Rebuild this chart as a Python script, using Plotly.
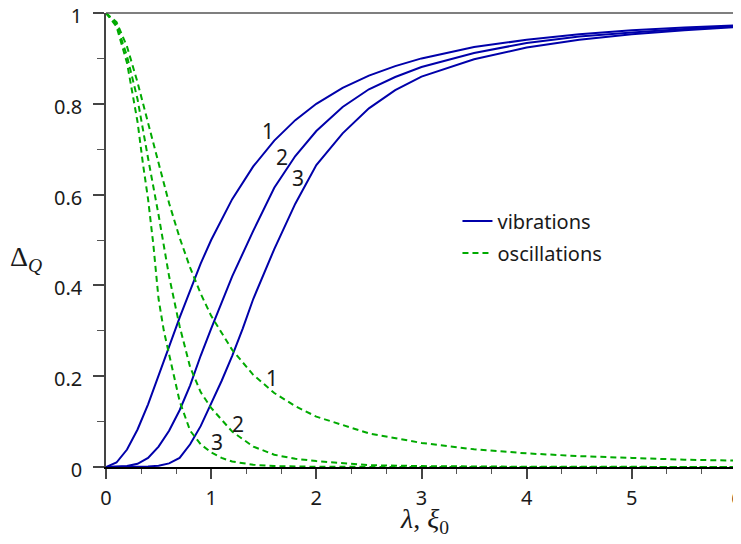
import plotly.graph_objects as go

# ---- data ----
lam_v1 = [0, 0.1, 0.2, 0.3, 0.4, 0.5, 0.6, 0.7, 0.8, 0.9, 1.0, 1.2, 1.4, 1.6, 1.8, 2.0,
          2.25, 2.5, 2.75, 3.0, 3.5, 4.0, 4.5, 5.0, 5.5, 6.0]
vib1 = [0, 0.0099, 0.0385, 0.0826, 0.138, 0.2, 0.265, 0.329, 0.39, 0.448, 0.5, 0.59, 0.662,
        0.719, 0.764, 0.8, 0.835, 0.862, 0.883, 0.9, 0.925, 0.941, 0.953, 0.962, 0.968, 0.973]

lam_v2 = [0, 0.2, 0.3, 0.4, 0.5, 0.6, 0.7, 0.8, 0.9, 1.0, 1.2, 1.4, 1.6, 1.8, 2.0,
          2.25, 2.5, 2.75, 3.0, 3.5, 4.0, 4.5, 5.0, 5.5, 6.0]
vib2 = [0, 0.002, 0.007, 0.02, 0.045, 0.08, 0.125, 0.18, 0.245, 0.305, 0.42, 0.52, 0.615,
        0.685, 0.74, 0.793, 0.832, 0.859, 0.881, 0.912, 0.934, 0.948, 0.957, 0.965, 0.971]

lam_v3 = [0, 0.3, 0.4, 0.5, 0.6, 0.7, 0.8, 0.9, 1.0, 1.1, 1.2, 1.3, 1.4, 1.6, 1.8, 2.0,
          2.25, 2.5, 2.75, 3.0, 3.5, 4.0, 4.5, 5.0, 5.5, 6.0]
vib3 = [0, 0.0003, 0.001, 0.003, 0.008, 0.02, 0.05, 0.09, 0.14, 0.19, 0.245, 0.305, 0.37,
        0.48, 0.58, 0.665, 0.735, 0.79, 0.83, 0.86, 0.898, 0.924, 0.941, 0.953, 0.962, 0.969]

lam_o1 = [0, 0.1, 0.2, 0.3, 0.4, 0.5, 0.6, 0.7, 0.8, 0.9, 1.0, 1.2, 1.4, 1.6, 1.8, 2.0,
          2.5, 3.0, 3.5, 4.0, 4.5, 5.0, 5.5, 6.0]
osc1 = [1, 0.98, 0.926, 0.847, 0.758, 0.667, 0.581, 0.505, 0.439, 0.382, 0.333, 0.258,
        0.203, 0.163, 0.134, 0.111, 0.074, 0.053, 0.039, 0.030, 0.024, 0.020, 0.016, 0.014]

lam_o2 = [0, 0.1, 0.2, 0.3, 0.4, 0.5, 0.6, 0.7, 0.8, 0.9, 1.0, 1.2, 1.4, 1.6, 1.8, 2.0,
          2.5, 3.0, 4.0, 5.0, 6.0]
osc2 = [1, 0.975, 0.905, 0.81, 0.68, 0.555, 0.42, 0.31, 0.22, 0.165, 0.13, 0.078, 0.045,
        0.027, 0.018, 0.013, 0.004, 0.002, 0.0005, 0.0002, 0.0001]

lam_o3 = [0, 0.1, 0.2, 0.3, 0.35, 0.4, 0.45, 0.5, 0.55, 0.6, 0.7, 0.8, 0.9, 1.0, 1.1, 1.2,
          1.4, 1.6, 2.0, 3.0, 6.0]
osc3 = [1, 0.97, 0.89, 0.76, 0.67, 0.59, 0.49, 0.37, 0.30, 0.25, 0.145, 0.08, 0.05, 0.032,
        0.02, 0.012, 0.005, 0.002, 0.0005, 0, 0]

curve_labels = ["1", "2", "3"]
vib_label_x = [1.54, 1.673, 1.826]
vib_label_y = [0.740, 0.683, 0.637]
osc_label_x = [1.578, 1.255, 1.055]
osc_label_y = [0.196, 0.095, 0.055]

y_ticks = [0, 0.2, 0.4, 0.6, 0.8, 1]
y_tick_text = ["0", "0.2", "0.4", "0.6", "0.8", "1"]
x_ticks = [0, 1, 2, 3, 4, 5, 6]

BLUE = "#0000AA"
GREEN = "#00AA00"
TXT = "#1a1a1a"

fig = go.Figure()

vib = [(lam_v1, vib1), (lam_v2, vib2), (lam_v3, vib3)]
osc = [(lam_o1, osc1), (lam_o2, osc2), (lam_o3, osc3)]

for i, (xx, yy) in enumerate(vib):
    fig.add_trace(go.Scatter(x=xx, y=yy, mode="lines", name="vibrations",
                             legendgroup="v", showlegend=(i == 0), cliponaxis=False,
                             line=dict(color=BLUE, width=2)))
for i, (xx, yy) in enumerate(osc):
    fig.add_trace(go.Scatter(x=xx, y=yy, mode="lines", name="oscillations",
                             legendgroup="o", showlegend=(i == 0), cliponaxis=False,
                             line=dict(color=GREEN, width=2, dash="6px,4px")))

for lx, ly, t in zip(vib_label_x, vib_label_y, curve_labels):
    fig.add_annotation(x=lx, y=ly, text=t, showarrow=False,
                       font=dict(family="Noto Sans", size=21, color=TXT))
for lx, ly, t in zip(osc_label_x, osc_label_y, curve_labels):
    fig.add_annotation(x=lx, y=ly, text=t, showarrow=False,
                       font=dict(family="Noto Sans", size=21, color=TXT))

# axis titles
fig.add_annotation(xref="paper", yref="paper", x=-0.155, y=0.46,
                   xanchor="left", yanchor="middle",
                   text="Δ<sub><i>Q</i></sub>", showarrow=False,
                   font=dict(family="Liberation Serif", size=28, color=TXT))
fig.add_annotation(xref="paper", yref="paper", x=0.505, y=-0.118,
                   xanchor="center", yanchor="middle",
                   text="<i>λ</i>, <i>ξ</i><sub>0</sub>", showarrow=False,
                   font=dict(family="Liberation Serif", size=28, color=TXT))

# top and right frame
fig.add_shape(type="line", xref="paper", yref="paper", x0=0, x1=1, y0=1, y1=1,
              line=dict(color="#555555", width=1.5), layer="above")
fig.add_shape(type="line", xref="paper", yref="paper", x0=1, x1=1, y0=0, y1=1,
              line=dict(color="#888888", width=1.5), layer="above")

fig.update_xaxes(range=[0, 6], tickvals=x_ticks, ticks="outside", ticklen=10,
                 tickwidth=1.5, tickcolor="#444", showline=True, linecolor="#000",
                 linewidth=1.5, showgrid=False, zeroline=False, automargin=False,
                 ticklabeloverflow="allow",
                 minor=dict(dtick=1 / 3, tick0=0, ticks="outside", ticklen=5,
                            tickwidth=1.2, tickcolor="#555", showgrid=False),
                 tickfont=dict(family="Noto Sans", size=20, color=TXT),
                 ticklabelstandoff=2)
fig.update_yaxes(range=[0, 1], tickvals=y_ticks, ticktext=y_tick_text, ticks="outside",
                 ticklen=11, tickwidth=1.5, tickcolor="#444", showline=True,
                 linecolor="#444", linewidth=1.5, showgrid=False, zeroline=False,
                 automargin=False, ticklabeloverflow="allow", ticklabelshift=3,
                 minor=dict(dtick=0.1, tick0=0, ticks="outside", ticklen=7,
                            tickwidth=1.2, tickcolor="#555", showgrid=False),
                 tickfont=dict(family="Noto Sans", size=20, color=TXT),
                 ticklabelstandoff=7)

# the page adds an 8px body margin, so the figure is 8px smaller on each axis
fig.update_layout(
    width=733, height=536,
    margin=dict(l=98, r=4, t=5, b=77),
    plot_bgcolor="white", paper_bgcolor="white",
    legend=dict(x=0.557, y=0.585, xanchor="left", yanchor="top",
                bgcolor="rgba(0,0,0,0)", tracegroupgap=3,
                font=dict(family="Noto Sans", size=20, color=TXT)),
)

fig.write_html("out.html")
